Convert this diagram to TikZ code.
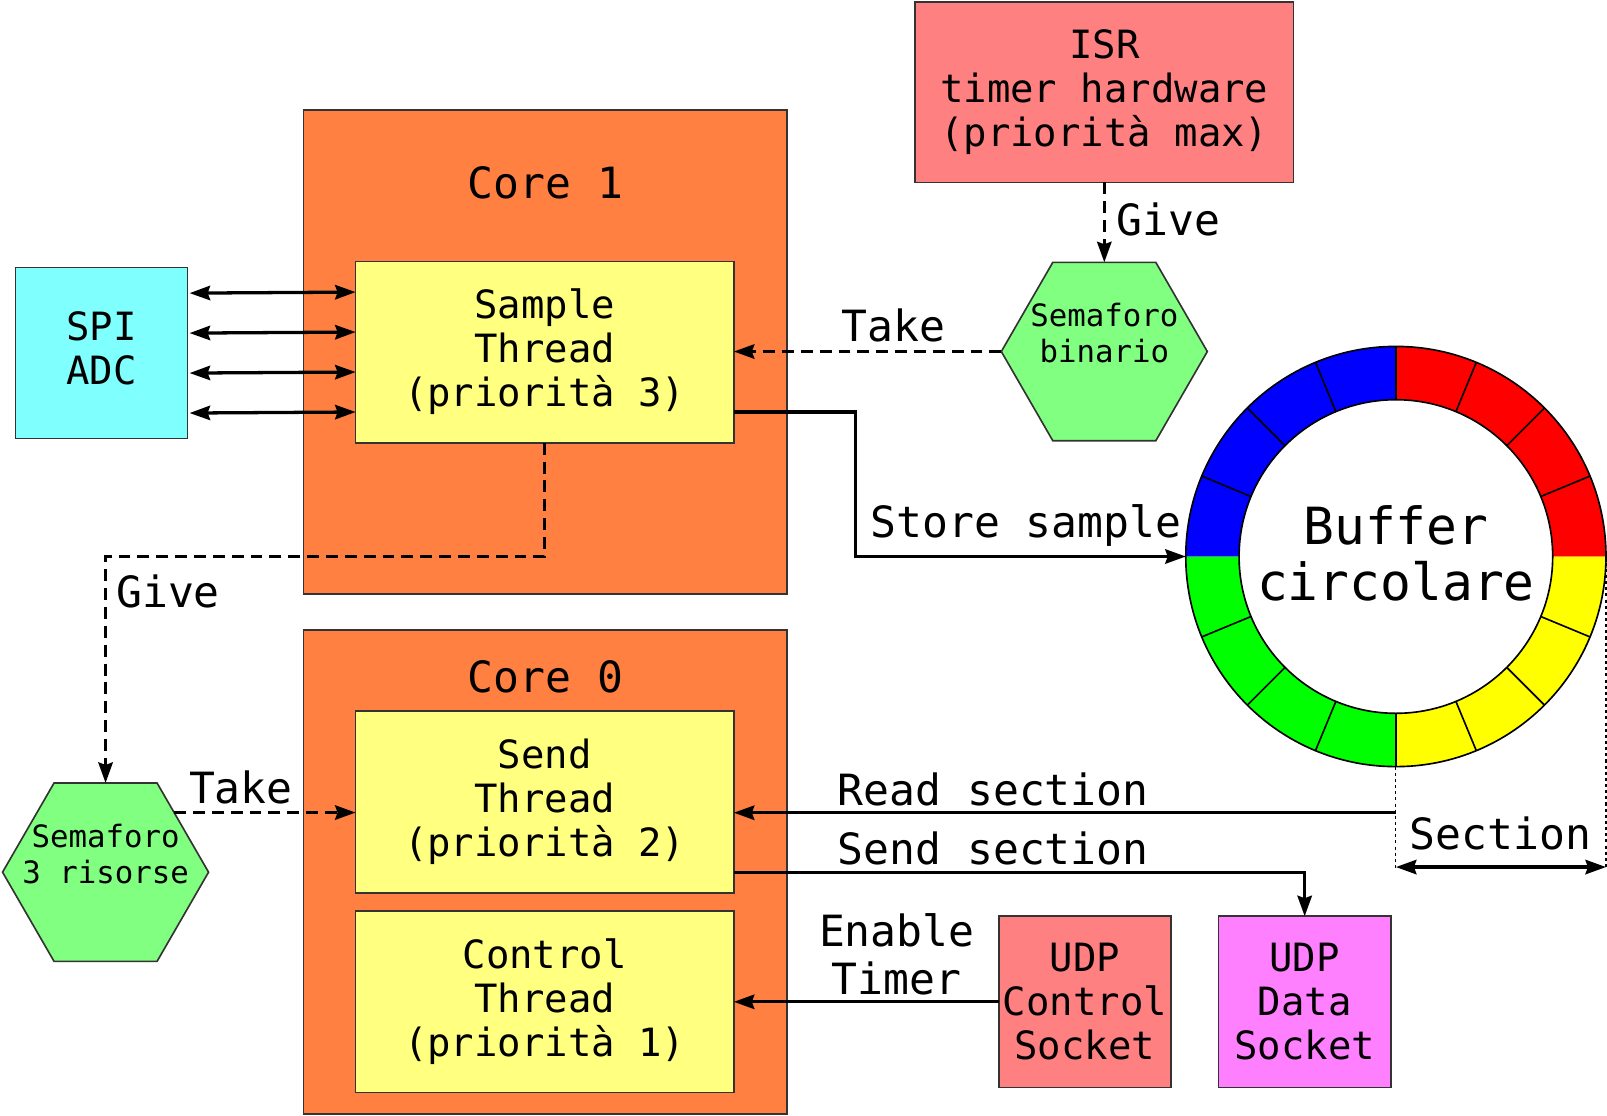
\documentclass[tikz,border=0pt]{standalone}
\usepackage{fontspec}
\setmainfont{DejaVu Sans Mono}
\usetikzlibrary{shapes.geometric,arrows.meta,calc}
\definecolor{coreor}{HTML}{FF8040}
\definecolor{thrY}{HTML}{FFFF80}
\definecolor{spiC}{HTML}{80FFFF}
\definecolor{isrR}{HTML}{FF8080}
\definecolor{hexG}{HTML}{80FF80}
\definecolor{udpM}{HTML}{FF80FF}
\definecolor{ringR}{HTML}{FF0000}
\definecolor{ringB}{HTML}{0000FF}
\definecolor{ringG}{HTML}{00FF00}
\definecolor{ringY}{HTML}{FFFF00}
\begin{document}
\begin{tikzpicture}[x=0.5pt,y=-0.5pt,
  box/.style={draw=black!80, line width=0.8pt, inner sep=0pt, outer sep=0pt, align=center, font=\fontsize{19}{21.5}\selectfont},
  corebox/.style={box, fill=coreor, minimum width=236pt, minimum height=236pt},
  thread/.style={box, fill=thrY, minimum width=184.5pt, minimum height=88.5pt},
  sq/.style={box, minimum width=84pt, minimum height=83.5pt},
  hexa/.style={regular polygon, regular polygon sides=6, minimum size=100.5pt, draw=black!80, line width=0.8pt, fill=hexG, inner sep=0pt, outer sep=0pt},
  hextext/.style={align=center, inner sep=0pt, font=\fontsize{15}{17.5}\selectfont},
  lbl/.style={font=\fontsize{21}{23.5}\selectfont, align=center, inner sep=0pt},
  tip/.tip={Stealth[length=10pt,width=7pt,inset=1.2pt]},
  conn/.style={line width=1.6pt, -tip},
  dconn/.style={conn, dash pattern=on 5.8pt off 3.4pt},
  dbl/.style={line width=1.6pt, tip-tip},
  dimline/.style={line width=0.5pt, dash pattern=on 1.5pt off 1.5pt},
]
\useasboundingbox (0,0) rectangle (1568,1088);
\fill[white] (0,0) rectangle (1568,1088);

% core boxes
\node[corebox] (core1) at (532,343.5) {};
\node[lbl] (core1t) at (532,178) {Core 1};
\node[corebox] (core0) at (532,851) {};
\node[lbl] (core0t) at (532,660) {Core 0};

% threads
\node[thread] (sample) at (531.5,343.5) {Sample\\Thread\\(priorità 3)};
\node[thread] (send) at (531.5,782.5) {Send\\Thread\\(priorità 2)};
\node[thread] (ctrl) at (531.5,977.5) {Control\\Thread\\(priorità 1)};

% other boxes
\node[box, fill=isrR, minimum width=184.5pt, minimum height=88pt] (isr) at (1077.5,90) {ISR\\timer hardware\\(priorità max)};
\node[sq, fill=spiC] (spi) at (99,344.5) {};
\node[box, draw=none, fill=none] (spit) at ([yshift=2.5pt]spi.center) {SPI\\ADC};
\node[sq, fill=isrR] (udpc) at (1058.5,977.5) {UDP\\Control\\Socket};
\node[sq, fill=udpM] (udpd) at (1273,977.5) {UDP\\Data\\Socket};

% semaphores
\node[hexa] (hexb) at (1077.5,343) {};
\node[hextext] (hexbt) at ([yshift=9pt]hexb.center) {Semaforo\\binario};
\node[hexa] (hex3) at (103,851) {};
\node[hextext] (hex3t) at ([yshift=9pt]hex3.center) {Semaforo\\3 risorse};

% circular buffer
\coordinate (bc) at (1362,543);
\foreach \i in {0,...,15}{
  \pgfmathsetmacro{\a}{\i*22.5}
  \pgfmathsetmacro{\b}{\a+22.5}
  \pgfmathtruncatemacro{\q}{\i/4}
  \ifcase\q \def\rc{ringR}\or \def\rc{ringB}\or \def\rc{ringG}\else \def\rc{ringY}\fi
  \fill[\rc] ($(bc)+(\a:102.5pt)$) arc[start angle=\a, end angle=\b, radius=102.5pt]
     -- ($(bc)+(\b:76.5pt)$) arc[start angle=\b, end angle=\a, radius=76.5pt] -- cycle;
}
\foreach \a in {22.5,45,67.5,90,112.5,135,157.5,202.5,225,247.5,270,292.5,315,337.5}{
  \draw[line width=0.8pt] ($(bc)+(\a:76.5pt)$) -- ($(bc)+(\a:102.5pt)$);
}
\draw[line width=0.8pt] (bc) circle[radius=102.5pt];
\draw[line width=0.8pt] (bc) circle[radius=76.5pt];
\node[circle, minimum size=205pt, inner sep=0pt, outer sep=0pt] (buf) at (bc) {};
\node[align=center, inner sep=0pt, font=\fontsize{25}{27.5}\selectfont] (buft) at ([yshift=1.5pt]bc) {Buffer\\circolare};

% SPI <-> Sample
\foreach \o in {29.25,9.75,-9.75,-29.25}{
  \draw[dbl] ([yshift=\o pt, xshift=1pt]spi.east) -- ([yshift=\o pt]sample.west);
}

% ISR -> semaforo binario
\draw[dconn] (isr.south) -- (hexb.north);
\node[lbl, anchor=west] (give1) at (1089,214) {Give};

% semaforo binario -> sample
\draw[dconn] (hexb.west) -- (hexb.west -| sample.east);
\node[lbl] (take1) at (872,318) {Take};

% sample -> buffer
\draw[conn] ([yshift=-29.25pt]sample.east) -- ++(119,0) |- (buf.west);
\node[lbl] (store) at (1001,513) {Store sample};

% sample -> semaforo 3 risorse
\draw[dconn] (sample.south) -- ++(0,111) -| (hex3.north);
\node[lbl] (give2) at (164,577) {Give};

% semaforo 3 risorse -> send
\draw[dconn] (hex3.41) -- (hex3.41 -| send.west);
\node[lbl] (take2) at (235,768) {Take};

% buffer -> send
\coordinate (rs) at ([yshift=-5.25pt]send.east);
\draw[conn] (buf.south |- rs) -- (rs);
\node[lbl] (read) at (969,770) {Read section};

% send -> udp data
\draw[conn] ([yshift=-34.25pt]send.east) -| (udpd.north);
\node[lbl] (sendl) at (969,828) {Send section};

% udp control -> control thread
\draw[conn] (udpc.west) -- (ctrl.east);
\node[lbl] (enable) at (875,931) {Enable\\Timer};

% section dimension
\draw[dimline] (buf.south) -- ++(0,102);
\draw[dimline] (buf.east) -- ++(0,305);
\coordinate (sL) at ($(buf.south)+(0,98)$);
\coordinate (sR) at (buf.east |- sL);
\draw[dbl] (sL) -- (sR);
\node[lbl] (sect) at (1464,813) {Section};
\end{tikzpicture}
\end{document}
